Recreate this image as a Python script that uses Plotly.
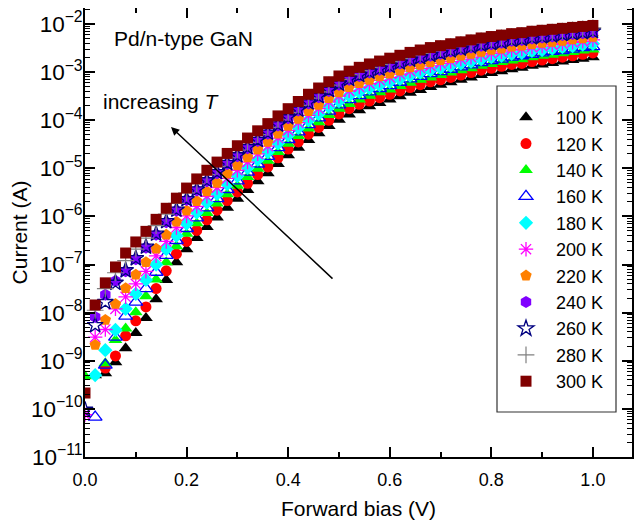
import plotly.graph_objects as go

# Forward bias (V)
bias_V = [0.00, 0.02, 0.04, 0.06, 0.08, 0.10, 0.12, 0.14, 0.16, 0.18,
          0.20, 0.22, 0.24, 0.26, 0.28, 0.30, 0.32, 0.34, 0.36, 0.38,
          0.40, 0.42, 0.44, 0.46, 0.48, 0.50, 0.52, 0.54, 0.56, 0.58,
          0.60, 0.62, 0.64, 0.66, 0.68, 0.70, 0.72, 0.74, 0.76, 0.78,
          0.80, 0.82, 0.84, 0.86, 0.88, 0.90, 0.92, 0.94, 0.96, 0.98, 1.00]

# log10 of current (A), one list per temperature
logI_100K = [None, -9.30, -9.26, -9.03, -8.74, -8.42, -8.11, -7.72, -7.32, -6.95,
             -6.68, -6.45, -6.22, -6.02, -5.82, -5.63, -5.45, -5.27, -5.10, -4.91,
             -4.73, -4.57, -4.41, -4.27, -4.12, -3.99, -3.88, -3.79, -3.71, -3.64,
             -3.57, -3.50, -3.43, -3.37, -3.31, -3.26, -3.21, -3.16, -3.11, -3.06,
             -3.02, -2.98, -2.94, -2.91, -2.87, -2.84, -2.81, -2.78, -2.75, -2.72, -2.69]
logI_120K = [None, None, -9.15, -8.90, -8.48, -8.17, -7.88, -7.50, -7.13, -6.78,
             -6.52, -6.29, -6.07, -5.87, -5.67, -5.49, -5.31, -5.13, -4.97, -4.78,
             -4.60, -4.45, -4.29, -4.15, -4.00, -3.87, -3.76, -3.67, -3.60, -3.53,
             -3.46, -3.39, -3.32, -3.26, -3.20, -3.16, -3.11, -3.06, -3.01, -2.96,
             -2.92, -2.88, -2.84, -2.82, -2.78, -2.75, -2.72, -2.69, -2.66, -2.63, -2.60]
logI_140K = [-9.32, None, -9.05, -8.57, -8.33, -7.99, -7.66, -7.31, -6.95, -6.62,
             -6.36, -6.14, -5.93, -5.73, -5.54, -5.36, -5.18, -5.01, -4.84, -4.66,
             -4.49, -4.33, -4.17, -4.04, -3.89, -3.76, -3.66, -3.57, -3.49, -3.42,
             -3.36, -3.29, -3.22, -3.16, -3.11, -3.06, -3.01, -2.96, -2.92, -2.87,
             -2.83, -2.79, -2.76, -2.73, -2.69, -2.66, -2.64, -2.61, -2.58, -2.55, -2.53]
logI_160K = [None, -10.17, -9.09, -8.51, -8.07, -7.78, -7.50, -7.16, -6.81, -6.50,
             -6.25, -6.03, -5.82, -5.63, -5.44, -5.26, -5.08, -4.91, -4.75, -4.57,
             -4.40, -4.24, -4.09, -3.95, -3.81, -3.68, -3.57, -3.49, -3.41, -3.34,
             -3.28, -3.21, -3.14, -3.09, -3.03, -2.99, -2.94, -2.89, -2.85, -2.80,
             -2.76, -2.73, -2.69, -2.66, -2.63, -2.60, -2.57, -2.55, -2.52, -2.49, -2.47]
logI_180K = [None, -9.30, -8.78, -8.36, -7.92, -7.61, -7.32, -7.00, -6.68, -6.40,
             -6.15, -5.92, -5.71, -5.53, -5.33, -5.16, -4.99, -4.82, -4.66, -4.48,
             -4.31, -4.16, -4.00, -3.87, -3.72, -3.60, -3.49, -3.41, -3.33, -3.27,
             -3.20, -3.14, -3.07, -3.01, -2.96, -2.91, -2.87, -2.82, -2.78, -2.73,
             -2.69, -2.66, -2.62, -2.60, -2.56, -2.54, -2.51, -2.48, -2.46, -2.43, -2.41]
logI_200K = [-10.12, -8.51, -8.35, -7.92, -7.67, -7.40, -7.14, -6.82, -6.52, -6.23,
             -5.99, -5.79, -5.58, -5.40, -5.21, -5.04, -4.87, -4.70, -4.54, -4.37,
             -4.21, -4.05, -3.90, -3.76, -3.62, -3.50, -3.39, -3.31, -3.24, -3.17,
             -3.11, -3.04, -2.98, -2.92, -2.87, -2.82, -2.78, -2.73, -2.69, -2.64,
             -2.61, -2.58, -2.54, -2.52, -2.48, -2.46, -2.43, -2.41, -2.38, -2.36, -2.33]
logI_220K = [None, -8.67, -8.15, -7.82, -7.49, -7.21, -6.95, -6.67, -6.38, -6.11,
             -5.88, -5.68, -5.48, -5.30, -5.11, -4.94, -4.77, -4.61, -4.45, -4.28,
             -4.12, -3.97, -3.81, -3.68, -3.54, -3.42, -3.31, -3.23, -3.16, -3.09,
             -3.03, -2.97, -2.90, -2.85, -2.79, -2.75, -2.71, -2.66, -2.62, -2.58,
             -2.54, -2.51, -2.47, -2.45, -2.42, -2.39, -2.37, -2.35, -2.32, -2.30, -2.27]
logI_240K = [None, -8.09, -7.63, -7.34, -7.14, -6.89, -6.65, -6.38, -6.12, -5.88,
             -5.66, -5.46, -5.27, -5.10, -4.91, -4.75, -4.58, -4.43, -4.28, -4.11,
             -3.96, -3.80, -3.65, -3.52, -3.39, -3.26, -3.16, -3.08, -3.01, -2.95,
             -2.89, -2.82, -2.76, -2.71, -2.66, -2.62, -2.57, -2.53, -2.49, -2.45,
             -2.42, -2.39, -2.35, -2.33, -2.30, -2.28, -2.26, -2.23, -2.21, -2.19, -2.17]
logI_260K = [-10.02, -8.26, -7.78, -7.38, -7.12, -6.87, -6.63, -6.36, -6.10, -5.86,
             -5.64, -5.44, -5.25, -5.08, -4.89, -4.73, -4.56, -4.41, -4.26, -4.09,
             -3.94, -3.78, -3.63, -3.50, -3.37, -3.24, -3.14, -3.06, -2.99, -2.93,
             -2.87, -2.80, -2.74, -2.69, -2.64, -2.60, -2.55, -2.51, -2.47, -2.43,
             -2.40, -2.37, -2.33, -2.31, -2.28, -2.26, -2.24, -2.21, -2.19, -2.17, -2.15]
logI_280K = [None, -7.95, -7.50, -7.17, -6.92, -6.68, -6.45, -6.19, -5.95, -5.73,
             -5.51, -5.32, -5.13, -4.96, -4.78, -4.62, -4.46, -4.30, -4.15, -3.99,
             -3.84, -3.69, -3.54, -3.41, -3.27, -3.15, -3.05, -2.97, -2.90, -2.84,
             -2.78, -2.72, -2.66, -2.61, -2.56, -2.51, -2.47, -2.43, -2.39, -2.35,
             -2.32, -2.29, -2.26, -2.24, -2.21, -2.19, -2.17, -2.15, -2.12, -2.10, -2.08]
logI_300K = [-9.67, -7.84, -7.38, -7.05, -6.76, -6.53, -6.31, -6.06, -5.83, -5.62,
             -5.41, -5.22, -5.04, -4.87, -4.69, -4.53, -4.37, -4.22, -4.07, -3.91,
             -3.76, -3.61, -3.46, -3.33, -3.20, -3.08, -2.98, -2.90, -2.83, -2.77,
             -2.71, -2.65, -2.59, -2.54, -2.49, -2.45, -2.41, -2.37, -2.33, -2.29,
             -2.26, -2.23, -2.20, -2.18, -2.15, -2.13, -2.11, -2.09, -2.07, -2.05, -2.03]

series_labels = ["100 K", "120 K", "140 K", "160 K", "180 K", "200 K",
                 "220 K", "240 K", "260 K", "280 K", "300 K"]
series_logs = [logI_100K, logI_120K, logI_140K, logI_160K, logI_180K, logI_200K,
               logI_220K, logI_240K, logI_260K, logI_280K, logI_300K]

# marker styles: (symbol, fill colour, line colour, line width, size)
styles = [
    ("triangle-up", "#000000", "#000000", 0, 12),
    ("circle", "#ff0000", "#ff0000", 0, 11),
    ("triangle-up", "#00ff00", "#00ff00", 0, 12),
    ("triangle-up-open", "#0000ff", "#0000ff", 1.3, 12),
    ("diamond", "#00ffff", "#00ffff", 0, 11),
    ("asterisk-open", "#ff00ff", "#ff00ff", 1.3, 12),
    ("pentagon", "#ff8000", "#ff8000", 0, 12),
    ("hexagon", "#8000ff", "#8000ff", 0, 12),
    ("star-open", "#000080", "#000080", 1.3, 12),
    ("cross-thin-open", "#808080", "#808080", 1.2, 12),
    ("square", "#800000", "#800000", 0, 11),
]

FONT = "Arial, Liberation Sans, sans-serif"

fig = go.Figure()
for label, logs, (sym, fc, lc, lw, sz) in zip(series_labels, series_logs, styles):
    current = [None if v is None else 10 ** v for v in logs]
    fig.add_trace(go.Scatter(
        x=bias_V, y=current, mode="markers", name=label,
        marker=dict(symbol=sym, color=fc, size=sz,
                    line=dict(color=lc, width=lw)),
    ))

# The page body has an 8 px margin; figure is sized to fit inside the window.
OFF = 8
W, H = 642 - OFF, 527 - OFF
# plot area on screen: x 85..632, y 8..457
L, T = 85 - OFF, 8 - OFF
R, B = W - (632 - OFF), H - (457 - OFF)
pw, ph = W - L - R, H - T - B

def px(xs):
    return (xs - OFF - L) / pw

def py(ys):
    return 1 - (ys - OFF - T) / ph

fig.update_layout(
    width=W, height=H,
    margin=dict(l=L, r=R, t=T, b=B, autoexpand=False),
    paper_bgcolor="white", plot_bgcolor="white",
    font=dict(family=FONT, size=18, color="black"),
    showlegend=True,
    legend=dict(x=px(496), y=py(99), xanchor="left", yanchor="top",
                bgcolor="rgba(0,0,0,0)", borderwidth=0,
                font=dict(family=FONT, size=18, color="black"),
                itemwidth=50, tracegroupgap=0),
    xaxis=dict(
        range=[0, 1.077], tickmode="linear", tick0=0, dtick=0.2, tickformat=".1f",
        ticks="inside", ticklen=10, tickwidth=1.5, tickcolor="black",
        ticklabelstandoff=6,
        minor=dict(ticks="inside", ticklen=5, tickwidth=1.5, tickcolor="black",
                   dtick=0.1, tick0=0, showgrid=False),
        showline=True, linecolor="black", linewidth=1.5, mirror="allticks",
        showgrid=False, zeroline=False, automargin=False,
        title=dict(text="Forward bias (V)", font=dict(size=21), standoff=12),
        tickfont=dict(size=18),
    ),
    yaxis=dict(
        type="log", range=[-11, -1.667], tickmode="linear", tick0=0, dtick=1,
        exponentformat="power",
        ticks="inside", ticklen=10, tickwidth=1.5, tickcolor="black",
        ticklabelstandoff=-3,
        minor=dict(ticks="inside", ticklen=5, tickwidth=1.2, tickcolor="black",
                   dtick="D1", showgrid=False),
        showline=True, linecolor="black", linewidth=1.5, mirror="allticks",
        showgrid=False, zeroline=False, automargin=False,
        title=dict(text="Current (A)", font=dict(size=21), standoff=9),
        tickfont=dict(size=18),
    ),
    shapes=[dict(type="rect", xref="paper", yref="paper",
                 x0=px(497), x1=px(616), y0=py(412), y1=py(86),
                 line=dict(color="#333333", width=1.2), fillcolor="rgba(0,0,0,0)")],
    annotations=[
        dict(text="Pd/n-type GaN", xref="paper", yref="paper",
             x=px(112), y=py(38), xanchor="left", yanchor="middle",
             showarrow=False, font=dict(size=21, family=FONT)),
        dict(text="increasing <i>T</i>", xref="paper", yref="paper",
             x=px(101), y=py(101), xanchor="left", yanchor="middle",
             showarrow=False, font=dict(size=21, family=FONT)),
        dict(text="", xref="paper", yref="paper",
             x=px(171), y=py(127), ax=334 - 171, ay=280 - 127,
             axref="pixel", ayref="pixel",
             showarrow=True, arrowhead=2, arrowsize=1.1, arrowwidth=1.5,
             arrowcolor="black"),
    ],
)

fig.write_html("out.html")
